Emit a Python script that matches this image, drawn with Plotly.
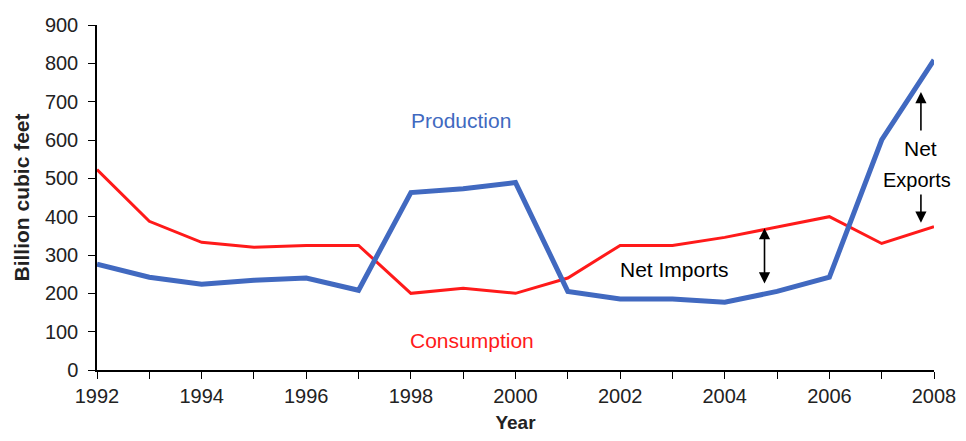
import plotly.graph_objects as go

years = list(range(1992, 2009))
production = [276, 242, 224, 234, 240, 208, 463, 473, 489, 205, 185, 185, 177, 205, 242, 600, 809]
consumption = [523, 388, 333, 320, 325, 325, 200, 213, 200, 240, 325, 325, 346, 372, 400, 330, 374]

BLUE = "#4169C0"
RED = "#FF1A1A"
FONT = "Liberation Sans, Arial, sans-serif"

fig = go.Figure()
fig.add_trace(go.Scatter(x=years, y=consumption, mode="lines", line=dict(color=RED, width=3), name="Consumption"))
fig.add_trace(go.Scatter(x=years, y=production, mode="lines", line=dict(color=BLUE, width=5), name="Production"))

ann = [
    dict(x=1998.96, y=650, text="Production", showarrow=False, font=dict(color=BLUE, size=21)),
    dict(x=1999.17, y=76, text="Consumption", showarrow=False, font=dict(color=RED, size=21)),
    dict(x=2003.03, y=261, text="Net Imports", showarrow=False, font=dict(color="black", size=21)),
    dict(x=2007.75, y=579, text="Net", showarrow=False, font=dict(color="black", size=21)),
    dict(x=2007.68, y=496, text="Exports", showarrow=False, font=dict(color="black", size=20)),
]
arrows = [
    (2004.76, 370, 2004.76, 222, "end+start"),
    (2007.75, 725, 2007.75, 621, "end"),
    (2007.75, 384, 2007.75, 462, "end"),
]
for x, y, ax, ay, side in arrows:
    ann.append(dict(x=x, y=y, ax=ax, ay=ay, xref="x", yref="y", axref="x", ayref="y",
                    showarrow=True, arrowhead=2, arrowsize=1.4, arrowwidth=1.6,
                    arrowcolor="black", arrowside=side, text=""))

fig.update_layout(
    width=950, height=425,
    margin=dict(l=89, r=24, t=17, b=63, autoexpand=False),
    paper_bgcolor="white", plot_bgcolor="white",
    showlegend=False,
    font=dict(family=FONT, color="#222", size=20),
    annotations=ann,
    xaxis=dict(range=[1992, 2008], tickmode="array", tickvals=years,
               ticktext=[str(y) if y % 2 == 0 else "" for y in years],
               ticks="outside", ticklen=7, tickcolor="black", showline=True,
               linecolor="black", linewidth=1.5, showgrid=False, zeroline=False,
               tickfont=dict(size=20),
               title=dict(text="<b>Year</b>", font=dict(size=19), standoff=12)),
    yaxis=dict(range=[0, 900], tickvals=list(range(0, 901, 100)),
               ticks="outside", ticklen=7, tickcolor="black", showline=True,
               linecolor="black", linewidth=1.5, showgrid=False, zeroline=False,
               tickfont=dict(size=20), ticklabelstandoff=6,
               title=dict(text="<b>Billion cubic feet</b>", font=dict(size=21), standoff=10)),
)

fig.write_html("out.html")
